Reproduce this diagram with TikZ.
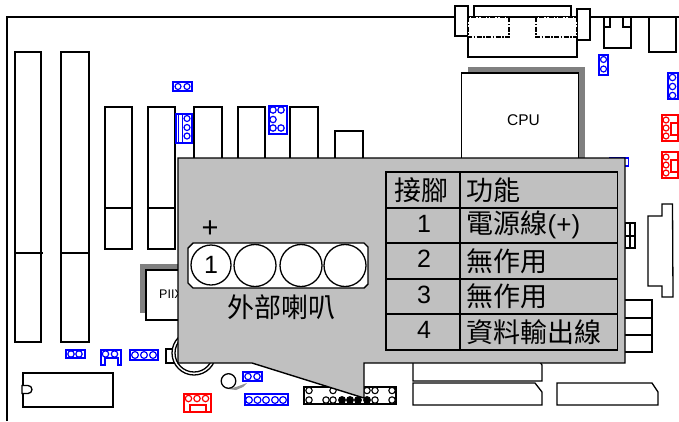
\documentclass[tikz,border=0pt]{standalone}
\usepackage{fontspec}
\setmainfont{Liberation Sans}
\newfontfamily\cjk{Noto Sans CJK TC}
\definecolor{panelgray}{HTML}{C0C0C0}
\definecolor{shadegray}{HTML}{808080}
\definecolor{ink}{HTML}{000000}
\tikzset{
  part/.style={draw=ink,line width=1.3pt,fill=white,line join=miter},
  wire/.style={draw=ink,line width=1.3pt},
  bluepart/.style={draw=blue,line width=1.5pt,fill=white},
  redpart/.style={draw=red,line width=1.5pt,fill=white},
  bluepin/.style={draw=blue,line width=1.2pt,fill=white},
  redpin/.style={draw=red,line width=1.2pt,fill=white},
  blackpin/.style={draw=ink,line width=1.1pt,fill=white},
  solidpin/.style={draw=ink,line width=1pt,fill=ink},
  rule/.style={draw=ink,line width=1.8pt},
  dotbox/.style={draw=ink,line width=1.8pt,fill=white,dash pattern=on 5pt off 1.5pt on 1.5pt off 1.5pt},
  big/.style={font=\fontsize{25}{28}\selectfont,text=ink,inner sep=0pt},
  bigcjk/.style={font=\fontsize{27}{28}\cjk,text=ink,inner sep=0pt},
}
\begin{document}
\begin{tikzpicture}[x=1pt,y=-1pt]
\useasboundingbox (0,0) rectangle (679,421);
\clip (0,0) rectangle (679,421);
% board outline
\draw[wire] (7,421) -- (7,17) -- (679,17);
% memory slots
\draw[part] (15,52) rectangle (41,342);
\draw[wire] (15,253) -- (43,253);
\draw[part] (61,52) rectangle (89,342);
\draw[wire] (62,253) -- (89,253);
% PCI / ISA slots
\draw[part] (105,107) rectangle (132,249);
\draw[wire] (105,208) -- (132,208);
\draw[part] (148,107) rectangle (175,249);
\draw[wire] (148,208) -- (175,208);
\draw[part] (194,107) rectangle (222,170);
\draw[part] (238,107) rectangle (265,170);
\draw[part] (290,107) rectangle (318,170);
\draw[part] (335,131) rectangle (363,170);
% CPU
\fill[shadegray] (468,67) rectangle (585,170);
\draw[part] (461.5,73) rectangle (578.5,170);
\node[font=\fontsize{15.5}{16}\selectfont,text=ink,inner sep=0pt] (cpu) at (523.5,120) {CPU};
% PII chip
\fill[shadegray] (140,264) rectangle (190,313);
\draw[part] (146,270) rectangle (200,320);
\node[font=\fontsize{12.5}{14}\selectfont,text=ink,inner sep=0pt,anchor=west] (piix) at (159,294) {PIIX};
% rear connectors
\draw[part] (474,6) rectangle (571,20);
\draw[part] (468,17) rectangle (577,57);
\draw[part] (455,6) rectangle (468,36);
\draw[part] (577,9) rectangle (590,40);
\draw[dotbox] (468,17) rectangle (509,37);
\draw[dotbox] (536,17) rectangle (577,37);
\draw[part] (604,17) rectangle (631,48);
\draw[part] (604,17) rectangle (610,27);
\draw[part] (623,17) rectangle (631,27);
\draw[part] (649,17) rectangle (676,52);
% blue jumpers, top
\draw[bluepart] (173,82) rectangle (192,91);
\foreach \x in {178,187} \draw[bluepin] (\x,86.5) circle (3);
\draw[bluepart] (176,114) rectangle (192,143);
\draw[blue,line width=1pt] (178,114) -- (178,143) (182,114) -- (182,143);
\foreach \y in {118.5,127.5,136} \draw[bluepin] (187,\y) circle (3);
\draw[bluepart] (269,106) rectangle (287,134);
\foreach \x/\y in {273/110,281/110,273/119.5,273/128,281/128} \draw[bluepin] (\x,\y) circle (3.2);
\draw[bluepart] (599,55) rectangle (608,75);
\foreach \y in {59.5,69} \draw[bluepin] (603.5,\y) circle (3);
\draw[bluepart] (668,73) rectangle (678,99);
\foreach \y in {77.5,86.5,95.5} \draw[bluepin] (672.5,\y) circle (3.2);
\draw[bluepart] (610,158) rectangle (628.5,166);
% red headers, right
\foreach \t in {115,152}{
  \draw[redpart] (662,\t) rectangle (678,\t+26);
  \draw[red,line width=1.2pt] (671,\t+8) rectangle (678,\t+20);
  \foreach \d in {5,13,21} \draw[redpin] (666,\t+\d) circle (3);
}
% right side parts
\draw[part] (625,223) rectangle (635,248);
\draw[wire] (625,236) -- (635,236) (630,223) -- (630,248);
\draw[part] (662,204) -- (672.5,204) -- (673,297) -- (662,297) -- (662,286) -- (648,286) -- (648,216) -- (662,216) -- cycle;
\draw[part] (615,300) rectangle (652,318);
\draw[part] (615,318) rectangle (652,335);
\draw[part] (615,335) rectangle (652,352);
% bottom slots
\draw[part] (413,355) -- (535,355) -- (542,365) -- (542,381) -- (413,381) -- cycle;
\draw[part] (413,383) -- (535,383) -- (542,392) -- (542,405) -- (413,405) -- cycle;
\draw[part] (557,383) -- (652,383) -- (658,392) -- (658,405) -- (557,405) -- cycle;
% bottom header
\draw[part] (304,387) rectangle (396,404);
\foreach \x in {309,333,367,375,392} \draw[blackpin] (\x,390.5) circle (3.2);
\foreach \x in {309,326,333,375,392} \draw[blackpin] (\x,400) circle (3.2);
\foreach \x in {342,350,358,367} \draw[solidpin] (\x,400) circle (3.4);
% bottom-left parts
\draw[part] (23,373) rectangle (113,407);
\draw[part] (22,385.5) -- (28,385.5) arc (-90:90:4) -- (22,393.5) -- cycle;
\draw[bluepart] (66,350) rectangle (85,358);
\foreach \x in {71,79} \draw[bluepin] (\x,354) circle (3.2);
\draw[bluepart] (101,350) -- (121,350) -- (121,365) -- (118,365) -- (118,358) -- (105,358) -- (105,365) -- (101,365) -- cycle;
\foreach \x in {105.5,114.5} \draw[bluepin] (\x,354) circle (3.2);
\draw[bluepart] (130,350) rectangle (158,360);
\foreach \x in {135,144,153} \draw[bluepin] (\x,355) circle (3.4);
\draw[part] (166,349) rectangle (178,363);
\draw[part] (194,353) circle (22);
\draw[part] (194,353) circle (19);
% round part and neighbours
\fill[shadegray!85] (228,389) -- (236,387) -- (247,383) -- (243,387) -- (236,390) -- cycle;
\draw[part] (228.5,381) circle (7.3);
\draw[bluepart] (243,372) rectangle (262,381);
\foreach \x in {248,257} \draw[bluepin] (\x,376.5) circle (3.2);
\draw[bluepart] (245,394) rectangle (288,405);
\foreach \x in {249,257.5,266,275,283} \draw[bluepin] (\x,400) circle (3.4);
\draw[redpart] (184,394) rectangle (211,412);
\foreach \x in {188.5,197,205.5} \draw[redpin] (\x,398.5) circle (3.2);
\draw[red,line width=1.2pt] (190,405) rectangle (206,412);
% grey callout
\draw[draw=ink,line width=1.4pt,fill=panelgray,line join=miter] (178,158) -- (625,158) -- (625,363) -- (364,363) -- (364,398) -- (252,363) -- (178,363) -- cycle;
% pin table
\draw[rule] (386,172) rectangle (617.5,350);
\foreach \y in {208,243,279,314} \draw[rule] (386,\y) -- (617.5,\y);
\draw[draw=ink,line width=1.9pt] (460,172) -- (460,350);
\node[bigcjk] (h1) at (421,190) {接腳};
\node[bigcjk,anchor=west] (h2) at (466.5,190) {功能};
\node[big] (n1) at (424,224) {1};
\node[big] (n2) at (424,259) {2};
\node[big] (n3) at (424,295) {3};
\node[big] (n4) at (424,330) {4};
\node[anchor=west,inner sep=0pt] (f1) at (466.5,225) {\fontsize{27}{28}\cjk\textcolor{ink}{電源線}\fontsize{26}{28}\rmfamily\textcolor{ink}{(+)}};
\node[bigcjk,anchor=west] (f2) at (466.5,261) {無作用};
\node[bigcjk,anchor=west] (f3) at (466.5,296) {無作用};
\node[bigcjk,anchor=west] (f4) at (466.5,332) {資料輸出線};
% speaker connector
\node[font=\fontsize{29}{30}\selectfont,text=ink,inner sep=0pt] (plus) at (210,229) {+};
\draw[draw=ink,line width=1.4pt,fill=white] (193,243) -- (364,243) -- (368,247) -- (368,284) -- (364,288) -- (193,288) -- (188,283) -- (188,248) -- cycle;
\node[draw=ink,line width=1.3pt,fill=white,circle,minimum size=40pt,inner sep=0pt,font=\fontsize{25}{28}\selectfont,text=ink] (p1) at (211,265) {1};
\node[draw=ink,line width=1.3pt,fill=white,circle,minimum size=42pt,inner sep=0pt] (p2) at (255,265.5) {};
\node[draw=ink,line width=1.3pt,fill=white,circle,minimum size=42pt,inner sep=0pt] (p3) at (301,265.5) {};
\node[draw=ink,line width=1.3pt,fill=white,circle,minimum size=42pt,inner sep=0pt] (p4) at (345,265.5) {};
\node[bigcjk] (spk) at (281,307) {外部喇叭};
\end{tikzpicture}
\end{document}
